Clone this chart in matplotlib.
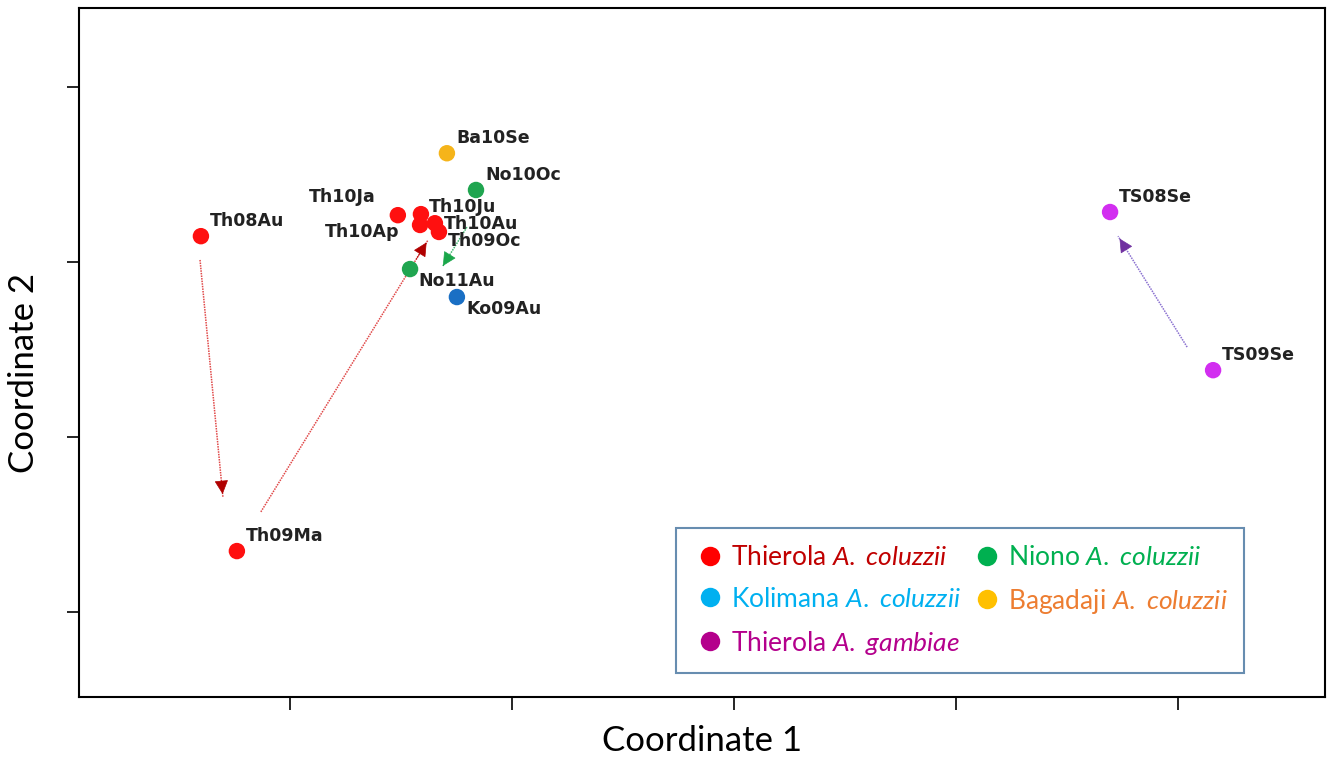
import matplotlib
matplotlib.use("Agg")
import matplotlib.pyplot as plt
from matplotlib.lines import Line2D

plt.rcParams["mathtext.fontset"] = "custom"
plt.rcParams["mathtext.rm"] = "Lato"
plt.rcParams["mathtext.it"] = "Lato:italic"

# sample points (MDS coordinates)
names = ["Th08Au", "Th09Ma", "Th10Ja", "Th10Ju", "Th10Ap", "Th10Au", "Th09Oc",
         "Ba10Se", "No10Oc", "No11Au", "Ko09Au", "TS08Se", "TS09Se"]
coord1 = [-0.2401, -0.2239, -0.1514, -0.1410, -0.1414, -0.1347, -0.1329,
          -0.1293, -0.1162, -0.1459, -0.1248, 0.1694, 0.2158]
coord2 = [0.0074, -0.0826, 0.0134, 0.0137, 0.0106, 0.0111, 0.0086,
          0.0311, 0.0206, -0.0020, -0.0100, 0.0143, -0.0309]
group = ["thc", "thc", "thc", "thc", "thc", "thc", "thc",
         "bag", "nio", "nio", "kol", "thg", "thg"]

# arrows: start -> end
arrow_x0 = [-0.2405, -0.2131, -0.1203, 0.2041]
arrow_y0 = [0.0006, -0.0714, 0.0100, -0.0243]
arrow_x1 = [-0.2302, -0.1378, -0.1311, 0.1730]
arrow_y1 = [-0.0671, 0.0063, -0.0011, 0.0074]
arrow_line = ["#e04848", "#e04848", "#40b870", "#8a70d0"]
arrow_head = ["#b00000", "#b00000", "#1aa64a", "#7030a0"]

point_colors = {"thc": "#ff1010", "nio": "#20a550", "kol": "#1a6fc4",
                "bag": "#f5b41a", "thg": "#d22ef0"}

# label offsets in pixels (dx, dy)
label_offsets = {"Th10Ja": (-89, 18), "Th10Ap": (-95, -7), "Th10Ju": (8, 7),
                 "Th10Au": (9, -1), "Th09Oc": (9, -9), "No11Au": (8, -12),
                 "Ko09Au": (9, -12)}

legend_labels = ["Thierola $A.$ $coluzzii$", "Kolimana $A.$ $coluzzii$",
                 "Thierola $A.$ $gambiae$", "Niono $A.$ $coluzzii$",
                 "Bagadaji $A.$ $coluzzii$"]
legend_markers = ["#ff0000", "#00b0f0", "#b4008c", "#00b050", "#ffc000"]
legend_text = ["#c00000", "#00b0f0", "#b4008c", "#00b050", "#ed7d31"]

fig = plt.figure(figsize=(13.35, 7.58), dpi=100)
ax = fig.add_axes([0.0592, 0.0805, 0.9333, 0.9089])

for i in range(len(arrow_x0)):
    ax.plot([arrow_x0[i], arrow_x1[i]], [arrow_y0[i], arrow_y1[i]],
            color=arrow_line[i], lw=1.1, ls=(0, (1, 0.7)), zorder=1)
    dx = arrow_x1[i] - arrow_x0[i]
    dy = arrow_y1[i] - arrow_y0[i]
    ax.annotate("", xy=(arrow_x1[i], arrow_y1[i]),
                xytext=(arrow_x1[i] - 0.08 * dx, arrow_y1[i] - 0.08 * dy),
                arrowprops=dict(arrowstyle="-|>", color=arrow_head[i],
                                lw=0.5, mutation_scale=22), zorder=2)

ax.scatter(coord1, coord2, s=140, c=[point_colors[g] for g in group],
           edgecolors="none", zorder=3)

for n, x, y in zip(names, coord1, coord2):
    off = label_offsets.get(n, (9, 15))
    ax.annotate(n, (x, y), xytext=off, textcoords="offset pixels",
                fontsize=12.5, fontweight="bold", color="#222222",
                family="DejaVu Sans", va="center", ha="left", zorder=4)

ax.set_xlim(-0.2950, 0.2662)
ax.set_ylim(-0.1243, 0.0726)
ax.set_xticks([-0.2, -0.1, 0.0, 0.1, 0.2])
ax.set_yticks([-0.1, -0.05, 0.0, 0.05])
ax.tick_params(direction="out", length=9, width=1.2, labelbottom=False,
               labelleft=False)
for s in ax.spines.values():
    s.set_linewidth(1.5)

ax.set_xlabel("Coordinate 1", fontsize=25, family="Lato", va="center")
ax.set_ylabel("Coordinate 2", fontsize=25, family="Lato", va="center")
ax.xaxis.set_label_coords(0.5, -0.064)
ax.yaxis.set_label_coords(-0.044, 0.47)

handles = [Line2D([0], [0], marker="o", ls="none", markersize=14,
                  markerfacecolor=c, markeredgecolor="none")
           for c in legend_markers]
leg = ax.legend(handles, legend_labels, ncol=2, loc="upper left",
                bbox_to_anchor=(0.479, 0.245), frameon=True, fancybox=False,
                prop={"family": "Lato", "size": 19},
                labelcolor=legend_text, handlelength=1.3, handletextpad=0.15,
                columnspacing=0.35, labelspacing=0.64, borderpad=0.63,
                borderaxespad=0)
leg.get_frame().set_edgecolor("#41719c")
leg.get_frame().set_linewidth(1.5)

fig.savefig("out.png", dpi=100)
